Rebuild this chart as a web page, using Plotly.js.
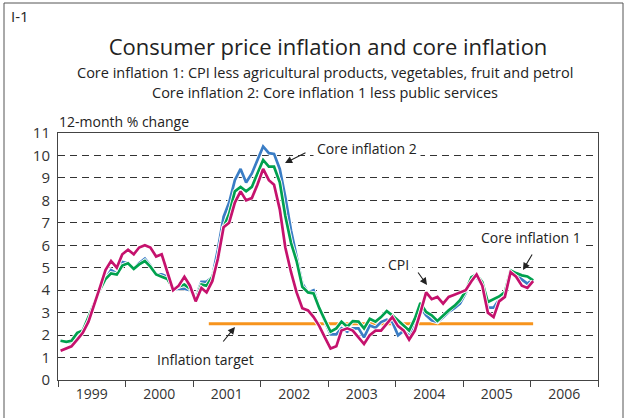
<!DOCTYPE html>
<html><head><meta charset="utf-8">
<script src="https://cdn.plot.ly/plotly-3.0.1.min.js"></script>
<style>html,body{margin:0;padding:0;background:#fff}#chart{width:625px;height:418px}</style>
</head><body><div id="chart"></div>
<script>
// Monthly 12-month % change, Jan 1999 .. Jan 2006
const startYear = 1999;
const cpi = [
  1.3,1.4,1.5,1.8,2.1,2.6,3.3,4.1,4.9,5.3,5.0,5.6,
  5.8,5.6,5.9,6.0,5.9,5.5,5.6,4.8,4.0,4.2,4.6,4.2,
  3.5,4.1,3.9,4.4,5.4,6.8,7.0,7.9,8.4,8.0,8.1,8.7,
  9.4,8.9,8.7,7.6,5.9,4.8,3.9,3.2,3.1,2.8,2.4,1.9,
  1.4,1.5,2.2,2.3,2.2,1.9,1.6,2.0,2.2,2.2,2.5,2.8,
  2.4,2.2,1.8,2.2,3.0,3.9,3.6,3.7,3.4,3.7,3.8,3.9,
  4.0,4.4,4.7,4.2,3.0,2.8,3.5,3.7,4.8,4.6,4.2,4.1,
  4.4];
const core1 = [
  1.75,1.7,1.75,2.1,2.2,2.8,3.35,4.0,4.5,4.75,4.7,5.1,
  5.2,4.95,5.15,5.3,5.05,4.7,4.6,4.5,4.07,4.17,4.25,4.07,
  3.6,4.25,4.2,4.6,5.3,6.8,7.4,8.4,8.6,8.4,8.6,9.2,
  9.8,9.5,9.5,8.8,7.3,6.1,5.3,4.15,3.9,3.85,3.2,2.67,
  2.15,2.3,2.6,2.37,2.62,2.6,2.3,2.73,2.6,2.8,3.07,2.88,
  2.66,2.43,2.2,2.73,3.43,3.03,2.88,2.63,2.88,3.1,3.3,3.55,
  3.96,4.58,4.7,4.36,3.47,3.58,3.72,3.92,4.88,4.76,4.66,4.61,
  4.44];
const core2 = [
  1.75,1.7,1.7,2.0,2.15,2.8,3.35,4.0,4.5,4.9,4.75,5.25,
  5.2,4.95,5.2,5.4,5.1,4.7,4.7,4.6,4.02,4.07,4.07,4.0,
  3.7,4.37,4.37,4.6,5.8,7.26,7.9,8.9,9.4,8.8,9.2,9.8,
  10.4,10.1,10.07,9.4,8.15,6.66,5.48,4.3,3.9,4.0,3.26,2.6,
  2.03,2.03,2.3,2.15,2.3,2.3,1.9,2.43,2.33,2.58,2.69,2.58,
  1.99,2.2,1.99,2.58,3.25,2.88,2.66,2.58,2.8,3.03,3.2,3.4,
  3.87,4.51,4.58,4.21,3.22,3.22,3.58,3.84,4.85,4.66,4.44,4.29,
  4.51];
const targetDates = ['2001-03-27','2006-01-15'];
const targetValues = [2.5, 2.5];

const months = cpi.map((_, i) => {
  const y = startYear + Math.floor(i / 12);
  const m = String(i % 12 + 1).padStart(2, '0');
  return y + '-' + m + '-15';
});

function series(vals, color) {
  return [
    {x: months, y: vals, type:'scatter', mode:'lines', line:{color:'#ffffff', width:4.4}, hoverinfo:'skip'},
    {x: months, y: vals, type:'scatter', mode:'lines', line:{color:color, width:2.7}}
  ];
}
const data = [
  {x: targetDates, y: targetValues, type:'scatter', mode:'lines', line:{color:'#f7941d', width:3}},
  ...series(core2, '#3a7dc5'),
  ...series(core1, '#00a14e'),
  ...series(cpi, '#c5126d')
];

const L = 58, R = 598, T = 133, B = 380;
const PX = x => (x - L) / (R - L);
const PY = y => (B - y) / (B - T);

function label(text, x, y, size, opts) {
  return Object.assign({text, xref:'paper', yref:'paper', x:PX(x), y:PY(y), showarrow:false,
    xanchor:'center', yanchor:'middle', font:{size:size, color:'#222'}}, opts || {});
}
function arrow(tx, ty, hx, hy) {
  return {text:'', xref:'paper', yref:'paper', x:PX(hx), y:PY(hy), ax:tx-hx, ay:ty-hy,
    showarrow:true, arrowhead:2, arrowsize:1.3, arrowwidth:1.1, arrowcolor:'#222', standoff:0};
}

const layout = {
  width:625, height:418,
  margin:{l:L, r:625-R, t:T, b:418-B, pad:0},
  paper_bgcolor:'#fff', plot_bgcolor:'#fff',
  font:{family:'"Open Sans", sans-serif', color:'#333'},
  showlegend:false,
  title:{text:'Consumer price inflation and core inflation', xref:'paper', x:0.5, xanchor:'center',
    yref:'container', y:1-47/418, yanchor:'middle', font:{size:22, color:'#222'}},
  xaxis:{type:'date', range:['1999-01-01','2007-01-01'], tick0:'1999-01-01', dtick:'M12',
    tickformat:'%Y', ticklabelmode:'period', ticks:'outside', ticklen:6, tickcolor:'#444',
    showline:true, linecolor:'#444', linewidth:1, mirror:true, showgrid:false, zeroline:false,
    tickfont:{size:14, color:'#333'}, ticklabelstandoff:-5},
  yaxis:{range:[0,11], tick0:0, dtick:1, ticks:'', showline:true, linecolor:'#444', linewidth:1,
    mirror:true, showgrid:true, gridcolor:'#333', gridwidth:1, griddash:'7px,5px', zeroline:false,
    tickfont:{size:15, color:'#333'}, ticklabelstandoff:4},
  annotations:[
    label('I-1', 9, 16, 15, {xanchor:'left'}),
    label('Core inflation 1: CPI less agricultural products, vegetables, fruit and petrol', 325, 72, 14.5),
    label('Core inflation 2: Core inflation 1 less public services', 325, 92, 14.5),
    label('12-month % change', 57, 121, 14, {xanchor:'left'}),
    label('Core inflation 2', 367, 148, 14, {bgcolor:'#fff', borderpad:3}),
    label('CPI', 398, 264, 14, {bgcolor:'#fff', borderpad:3}),
    label('Core inflation 1', 531, 237, 14, {bgcolor:'#fff', borderpad:3}),
    label('Inflation target', 205, 359, 14, {bgcolor:'#fff', borderpad:3}),
    arrow(307, 152, 285, 163),
    arrow(417, 271, 427, 285),
    arrow(533, 253, 523, 270),
    arrow(222, 343, 235, 327)
  ],
  shapes:[
    {type:'line', xref:'paper', yref:'paper', x0:PX(4), x1:PX(623), y0:PY(3), y1:PY(3), line:{color:'#555', width:1}},
    {type:'line', xref:'paper', yref:'paper', x0:PX(4), x1:PX(4), y0:PY(3), y1:PY(418), line:{color:'#555', width:1}},
    {type:'line', xref:'paper', yref:'paper', x0:PX(623), x1:PX(623), y0:PY(3), y1:PY(418), line:{color:'#555', width:1}}
  ]
};
Plotly.newPlot('chart', data, layout, {displayModeBar:false, staticPlot:true});
</script>
</body></html>
